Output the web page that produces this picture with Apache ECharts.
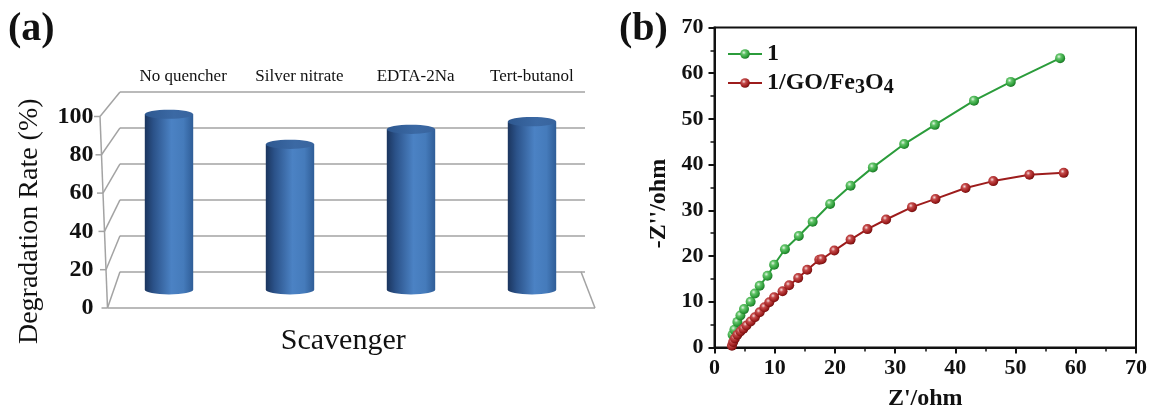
<!DOCTYPE html>
<html>
<head>
<meta charset="utf-8">
<script src="https://cdn.jsdelivr.net/npm/echarts@6/dist/echarts.min.js"></script>
<style>
  html, body { margin: 0; padding: 0; background: #fff; }
  #chart { width: 1158px; height: 409px; }
</style>
</head>
<body>
<div id="chart"></div>
<script>
// ---- (a) degradation with different scavengers ----
const scavengers = ['No quencher', 'Silver nitrate', 'EDTA-2Na', 'Tert-butanol'];
const degradationRate = [94.6, 78.4, 86.5, 90.6];
const rateTicks = [0, 20, 40, 60, 80, 100];

// ---- (b) Nyquist plots ----
const seriesNames = ['1', '1/GO/Fe3O4'];
const zReal1 = [3.0, 3.3, 3.8, 4.3, 4.9, 6.0, 6.7, 7.5, 8.8, 9.9, 11.7, 14.0, 16.3, 19.2, 22.6, 26.3, 31.5, 36.6, 43.1, 49.2, 57.4];
const zImag1 = [2.8, 3.9, 5.6, 7.0, 8.4, 10.0, 11.8, 13.5, 15.7, 18.1, 21.5, 24.4, 27.5, 31.4, 35.4, 39.4, 44.5, 48.7, 54.0, 58.1, 63.3];
const zReal2 = [2.9, 3.1, 3.4, 3.8, 4.3, 4.8, 5.3, 6.0, 6.7, 7.5, 8.3, 9.1, 9.9, 11.3, 12.4, 13.9, 15.4, 17.4, 17.8, 19.9, 22.6, 25.4, 28.5, 32.8, 36.7, 41.7, 46.3, 52.3, 58.0];
const zImag2 = [0.4, 1.2, 2.0, 2.8, 3.5, 4.1, 4.8, 5.7, 6.6, 7.7, 8.8, 9.9, 11.0, 12.3, 13.6, 15.2, 17.0, 19.2, 19.3, 21.2, 23.6, 25.9, 28.0, 30.7, 32.5, 34.9, 36.4, 37.8, 38.2];

// ---- layout ----
const SERIF = '"Liberation Serif", "Times New Roman", serif';
const INK = '#111111';
const WALL = '#a3a3a3';
// pseudo-3D box of panel (a): front plane, back wall, and the mid-depth plane for the columns
const FRONT = { left: 107.5, right: 595, top: 116.5, bottom: 308 };
const BACK = { left: 120, right: 585, top: 92, bottom: 271.7 };
const MID = { left: 108.5, right: 592.5, top: (FRONT.top + BACK.top) / 2, bottom: (FRONT.bottom + BACK.bottom) / 2 };
const FRONT_LEAN = 7.5;  // front edge leans left toward the top
const PLOT_B = { left: 714.5, right: 1136, top: 27.5, bottom: 347.5 };

function gridOf(r) {
  return {
    left: r.left, top: r.top, width: r.right - r.left, height: r.bottom - r.top,
    containLabel: false, outerBoundsMode: 'none'
  };
}

function cylinderFill() {
  return new echarts.graphic.LinearGradient(0, 0, 1, 0, [
    { offset: 0, color: '#1b355e' },
    { offset: 0.18, color: '#2b5289' },
    { offset: 0.55, color: '#4b82c4' },
    { offset: 0.8, color: '#457bbb' },
    { offset: 1, color: '#2f5d97' }
  ]);
}
function capFill() {
  return new echarts.graphic.LinearGradient(0, 0, 1, 0, [
    { offset: 0, color: '#2e5890' },
    { offset: 0.6, color: '#3b69a4' },
    { offset: 1, color: '#38649e' }
  ]);
}

function marker(light, mid, dark, edge) {
  return new echarts.graphic.RadialGradient(0.38, 0.35, 0.7, [
    { offset: 0, color: light },
    { offset: 0.3, color: mid },
    { offset: 0.75, color: dark },
    { offset: 1, color: edge }
  ]);
}

const GREEN = '#2b9c3b';
const RED = '#9d1c1c';

const chart = echarts.init(document.getElementById('chart'), null, { renderer: 'canvas' });

const option = {
  animation: false,
  backgroundColor: '#ffffff',
  title: [
    { text: '(a)', left: 8, top: 10, padding: 0,
      textStyle: { fontFamily: SERIF, fontSize: 40, fontWeight: 'bold', color: INK } },
    { text: '(b)', left: 619, top: 10, padding: 0,
      textStyle: { fontFamily: SERIF, fontSize: 40, fontWeight: 'bold', color: INK } }
  ],
  legend: {
    orient: 'vertical',
    left: 727,
    top: 42,
    padding: 0,
    itemWidth: 34,
    itemHeight: 12,
    itemGap: 5,
    data: seriesNames,
    formatter: name => name.replace(/([A-Za-z])(\d+)/g, '$1{sub|$2}'),
    textStyle: {
      fontFamily: SERIF, fontSize: 24, fontWeight: 'bold', color: INK,
      rich: {
        sub: { fontFamily: SERIF, fontSize: 20, fontWeight: 'bold', color: INK, padding: [9, 0, 0, 0] }
      }
    }
  },
  grid: [
    gridOf(BACK),
    gridOf(FRONT),
    gridOf(MID),
    Object.assign(gridOf(PLOT_B), { show: true, borderColor: INK, borderWidth: 2, backgroundColor: 'transparent' })
  ],
  xAxis: [
    { gridIndex: 0, type: 'category', data: scavengers, position: 'top',
      axisLine: { show: false }, axisTick: { show: false }, splitLine: { show: false },
      axisLabel: { fontFamily: SERIF, fontSize: 17, color: INK, margin: 7, padding: [0, 0, 0, 10] } },
    { gridIndex: 1, type: 'value', min: 0, max: 1,
      axisLine: { show: false }, axisTick: { show: false }, axisLabel: { show: false }, splitLine: { show: false },
      name: 'Scavenger', nameLocation: 'middle', nameGap: 18,
      nameTextStyle: { fontFamily: SERIF, fontSize: 30, color: INK, padding: [0, 16, 0, 0] } },
    { gridIndex: 2, type: 'category', data: scavengers, show: false },
    { gridIndex: 3, type: 'value', min: 0, max: 70, interval: 10,
      axisLine: { show: true, onZero: false, lineStyle: { color: INK, width: 2 } },
      axisTick: { show: true, inside: false, length: 6, lineStyle: { color: INK, width: 2 } },
      minorTick: { show: true, splitNumber: 2, length: 4, lineStyle: { color: INK, width: 1.5 } },
      splitLine: { show: false },
      axisLabel: { fontFamily: SERIF, fontSize: 22, fontWeight: 'bold', color: INK, margin: 10 },
      name: "Z'/ohm", nameLocation: 'middle', nameGap: 39,
      nameTextStyle: { fontFamily: SERIF, fontSize: 24, fontWeight: 'bold', color: INK } }
  ],
  yAxis: [
    { gridIndex: 0, type: 'value', min: 0, max: 100, interval: 20,
      axisLine: { show: false }, axisTick: { show: false }, axisLabel: { show: false },
      splitLine: { show: true, lineStyle: { color: WALL, width: 1.5 } } },
    { gridIndex: 1, type: 'value', min: 0, max: 100, interval: 20,
      axisLine: { show: false }, axisTick: { show: false }, splitLine: { show: false },
      axisLabel: { fontFamily: SERIF, fontSize: 24, fontWeight: 'bold', color: INK, margin: 14 },
      name: 'Degradation Rate (%)', nameLocation: 'middle', nameGap: 64,
      nameTextStyle: { fontFamily: SERIF, fontSize: 28, color: INK, padding: [0, 18, 0, 0] } },
    { gridIndex: 2, type: 'value', min: 0, max: 100, show: false },
    { gridIndex: 3, type: 'value', min: 0, max: 70, interval: 10,
      axisLine: { show: true, onZero: false, lineStyle: { color: INK, width: 2 } },
      axisTick: { show: true, inside: false, length: 6, lineStyle: { color: INK, width: 2 } },
      minorTick: { show: true, splitNumber: 2, length: 4, lineStyle: { color: INK, width: 1.5 } },
      splitLine: { show: false },
      axisLabel: { fontFamily: SERIF, fontSize: 22, fontWeight: 'bold', color: INK, margin: 11 },
      name: "-Z''/ohm", nameLocation: 'middle', nameGap: 44,
      nameTextStyle: { fontFamily: SERIF, fontSize: 24, fontWeight: 'bold', color: INK, padding: [0, 32, 0, 0] } }
  ],
  series: [
    {
      type: 'custom',
      name: 'Degradation rate',
      xAxisIndex: 2,
      yAxisIndex: 2,
      data: degradationRate.map((v, i) => [i, v]),
      renderItem: function (params, api) {
        const i = api.value(0);
        const v = api.value(1);
        const head = api.coord([i, v]);
        const base = api.coord([i, 0]);
        const w = api.size([1, 0])[0] * 0.4;
        const rx = w / 2;
        const ry = rx * 0.19;
        return {
          type: 'group',
          children: [
            { type: 'ellipse', shape: { cx: base[0], cy: base[1], rx: rx, ry: ry }, style: { fill: cylinderFill() } },
            { type: 'rect', shape: { x: base[0] - rx, y: head[1], width: w, height: base[1] - head[1] }, style: { fill: cylinderFill() } },
            { type: 'ellipse', shape: { cx: head[0], cy: head[1], rx: rx, ry: ry }, style: { fill: capFill() } }
          ]
        };
      }
    },
    {
      type: 'line',
      name: seriesNames[0],
      xAxisIndex: 3,
      yAxisIndex: 3,
      data: zReal1.map((x, i) => [x, zImag1[i]]),
      symbol: 'circle',
      symbolSize: 10,
      lineStyle: { color: GREEN, width: 2 },
      itemStyle: { color: marker('#e6f6e6', '#63c46a', '#2a9a36', '#1b6a24') },
      z: 3
    },
    {
      type: 'line',
      name: seriesNames[1],
      xAxisIndex: 3,
      yAxisIndex: 3,
      data: zReal2.map((x, i) => [x, zImag2[i]]),
      symbol: 'circle',
      symbolSize: 10,
      lineStyle: { color: RED, width: 2 },
      itemStyle: { color: marker('#f6dede', '#c44a4a', '#9a1b1b', '#660e0e') },
      z: 4
    }
  ]
};

chart.setOption(option);

// Walls of the pseudo-3D box: left side wall, front edge with its ticks, and the floor outline.
const yFront = v => chart.convertToPixel({ yAxisIndex: 1 }, v);
const yBack = v => chart.convertToPixel({ yAxisIndex: 0 }, v);
const xFront = v => FRONT.left - FRONT_LEAN * v / 100;
const wallLines = [];
rateTicks.forEach(v => {
  wallLines.push([xFront(v), yFront(v), BACK.left, yBack(v)]);
  wallLines.push([xFront(v) - 6, yFront(v), xFront(v), yFront(v)]);
});
const topTick = rateTicks[rateTicks.length - 1];
wallLines.push([xFront(0), yFront(0), xFront(topTick), yFront(topTick)]);
wallLines.push([xFront(0), yFront(0), FRONT.right, yFront(0)]);
wallLines.push([FRONT.right, yFront(0), BACK.right - 4, yBack(0)]);

chart.setOption({
  graphic: {
    elements: wallLines.map(l => ({
      type: 'line',
      silent: true,
      z: 0,
      shape: { x1: l[0], y1: l[1], x2: l[2], y2: l[3] },
      style: { stroke: WALL, lineWidth: 1.5 }
    }))
  }
});
</script>
</body>
</html>
